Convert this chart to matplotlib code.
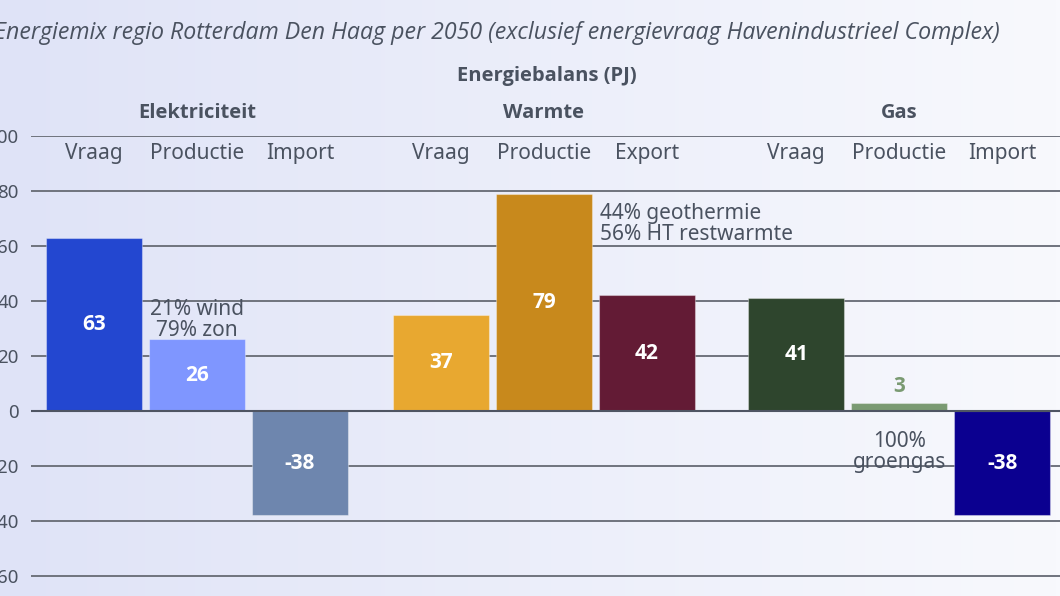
import numpy as np
import matplotlib.pyplot as plt
from matplotlib.colors import LinearSegmentedColormap

# data
groups = ["Elektriciteit", "Warmte", "Gas"]
categories = ["Vraag", "Productie", "Import",
              "Vraag", "Productie", "Export",
              "Vraag", "Productie", "Import"]
values = [63, 26, -38, 35, 79, 42, 41, 3, -38]
labels = ["63", "26", "-38", "37", "79", "42", "41", "3", "-38"]
colors = ["#2347d0", "#7f96ff", "#6e86ae",
          "#e8a830", "#c8891c", "#631b35",
          "#2e452d", "#7a9a72", "#0b0090"]
yticks = [100, 80, 60, 40, 20, 0, -20, -40, -60]
ytick_labels = ["100", "80", "60", "40", "20", "0", "-20", "-40", "-60"]

TXT = "#4a5260"
FONT = "Noto Sans"
BOLD = "Open Sans"

fig = plt.figure(figsize=(10.6, 5.96), dpi=100)

# gradient background
bg = fig.add_axes([0, 0, 1, 1], zorder=-10)
cmap = LinearSegmentedColormap.from_list("bg", ["#dfe3f7", "#f8f9fd"])
grad = np.linspace(0, 1, 256).reshape(1, -1)
bg.imshow(grad, aspect="auto", cmap=cmap, extent=[0, 1, 0, 1])
bg.set_axis_off()

W, H = 1060, 596
ax = fig.add_axes([31 / W, 0, (W - 31) / W, (596 - 136) / H])
ax.set_facecolor("none")

group_offsets = [0, 3.37, 6.82]
pos = [group_offsets[g] + i for g in range(3) for i in range(3)]
ax.bar(pos, values, width=0.93, color=colors, zorder=3,
       edgecolor=(1, 1, 1, 0.35), linewidth=0.8)

ax.set_xlim(-0.61, 9.38)
ax.set_ylim(-67.3, 100)
ax.set_yticks(yticks)
ax.set_yticklabels(ytick_labels)
ax.set_xticks([])
ax.tick_params(axis="y", length=0, pad=9, labelsize=13.5, labelcolor=TXT)
for t in ax.get_yticklabels():
    t.set_fontfamily(FONT)
for s in ax.spines.values():
    s.set_visible(False)
ax.grid(axis="y", color="#6f737d", linewidth=1.4, zorder=1)
ax.axhline(0, color="#4f5563", linewidth=1.5, zorder=4)
ax.set_axisbelow(True)

# value labels
for x, v, lab, c in zip(pos, values, labels, colors):
    if abs(v) < 10:
        ax.text(x, v + 2, lab, ha="center", va="bottom", color=c,
                fontsize=15, fontweight="bold", family=BOLD)
    else:
        ax.text(x, v / 2, lab, ha="center", va="center", color="white",
                fontsize=15, fontweight="bold", family=BOLD)

# category labels
for x, c in zip(pos, categories):
    ax.text(x, 93.6, c, ha="center", va="center", color=TXT, fontsize=15, family=FONT)

# group labels
for g, name in enumerate(groups):
    gx = group_offsets[g] + 1
    ax.text(gx, 108.4, name, ha="center", va="center", color=TXT, fontsize=14.5,
            fontweight="bold", family=BOLD, clip_on=False)

ax.text(4.4, 121.8, "Energiebalans (PJ)", ha="center", va="center", color=TXT,
        fontsize=14.5, fontweight="bold", family=BOLD, clip_on=False)

fig.text(-0.006, 0.944, "Energiemix regio Rotterdam Den Haag per 2050 (exclusief energievraag Havenindustrieel Complex)",
         ha="left", va="center", color=TXT, fontsize=16.7, style="italic", family="Open Sans")

# annotations
ax.text(1, 33, "21% wind\n79% zon", ha="center", va="center", color=TXT,
        fontsize=15, family=FONT, linespacing=0.98)
ax.text(4.91, 68, "44% geothermie\n56% HT restwarmte", ha="left", va="center", color=TXT,
        fontsize=15, family=FONT, linespacing=0.98)
ax.text(7.82, -15, "100%\ngroengas", ha="center", va="center", color=TXT,
        fontsize=15, family=FONT, linespacing=0.98)

fig.savefig("out.png", dpi=100)
